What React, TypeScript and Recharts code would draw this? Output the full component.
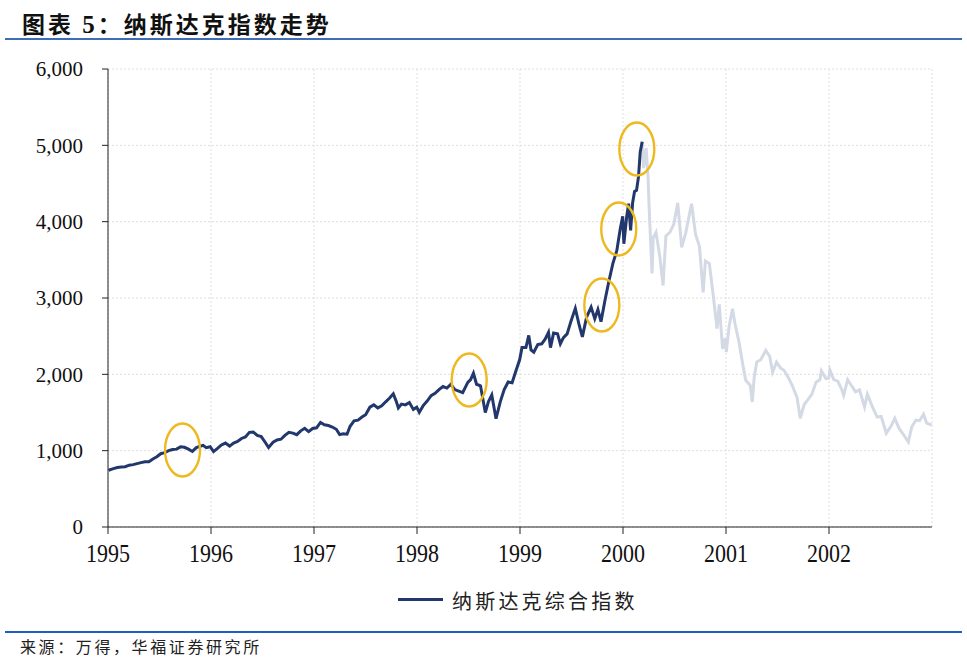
import React from "react";
import { LineChart, Line, XAxis, YAxis, CartesianGrid, ReferenceDot } from "recharts";

// 纳斯达克综合指数，按日期读取（月-日, 点位）
const NASDAQ_1995: [string, number][] = [
  ["01-03", 743], ["01-20", 765], ["02-03", 780], ["02-17", 785], ["03-03", 790], ["03-17", 810],
  ["03-31", 817], ["04-14", 830], ["04-28", 843], ["05-12", 855], ["05-26", 855], ["06-09", 890],
  ["06-23", 920], ["07-07", 960], ["07-21", 975], ["08-04", 1000], ["08-18", 1015], ["09-01", 1020],
  ["09-15", 1050], ["09-29", 1044], ["10-13", 1020], ["10-27", 990], ["11-10", 1040], ["11-24", 1058],
  ["12-04", 1069], ["12-15", 1040], ["12-29", 1052],
];
const NASDAQ_1996: [string, number][] = [
  ["01-10", 988], ["01-24", 1030], ["02-07", 1075], ["02-21", 1100], ["03-08", 1060], ["03-22", 1100],
  ["04-05", 1120], ["04-19", 1160], ["05-03", 1180], ["05-17", 1240], ["05-31", 1243], ["06-14", 1200],
  ["06-28", 1185], ["07-12", 1110], ["07-24", 1042], ["08-09", 1110], ["08-23", 1140], ["09-06", 1150],
  ["09-20", 1200], ["10-04", 1240], ["10-18", 1230], ["11-01", 1210], ["11-15", 1260], ["11-29", 1293],
  ["12-13", 1250], ["12-27", 1290],
];
const NASDAQ_1997: [string, number][] = [
  ["01-10", 1300], ["01-24", 1370], ["02-07", 1340], ["02-21", 1330], ["03-07", 1310], ["03-21", 1280],
  ["04-02", 1210], ["04-14", 1220], ["04-28", 1215], ["05-09", 1320], ["05-23", 1390], ["06-06", 1400],
  ["06-20", 1440], ["07-03", 1470], ["07-18", 1570], ["08-01", 1600], ["08-15", 1560], ["08-29", 1587],
  ["09-12", 1640], ["09-26", 1690], ["10-09", 1745], ["10-20", 1640], ["10-27", 1560], ["11-07", 1610],
  ["11-21", 1600], ["12-05", 1630], ["12-19", 1540], ["12-31", 1570],
];
const NASDAQ_1998: [string, number][] = [
  ["01-09", 1503], ["01-23", 1590], ["02-06", 1650], ["02-20", 1720], ["03-06", 1750], ["03-20", 1800],
  ["04-03", 1840], ["04-17", 1820], ["05-01", 1870], ["05-15", 1800], ["05-29", 1780], ["06-12", 1760],
  ["06-30", 1895], ["07-10", 1930], ["07-20", 2014], ["07-31", 1870], ["08-14", 1850], ["08-31", 1499],
  ["09-11", 1640], ["09-23", 1730], ["10-08", 1419], ["10-23", 1640], ["11-06", 1800], ["11-20", 1900],
  ["12-04", 1890], ["12-18", 2050], ["12-31", 2193],
];
const NASDAQ_1999: [string, number][] = [
  ["01-08", 2350], ["01-22", 2350], ["02-01", 2510], ["02-09", 2320], ["02-19", 2290], ["03-05", 2390],
  ["03-19", 2400], ["03-31", 2460], ["04-12", 2550], ["04-19", 2350], ["04-30", 2540], ["05-14", 2530],
  ["05-24", 2400], ["06-04", 2480], ["06-17", 2530], ["07-01", 2700], ["07-16", 2864], ["07-30", 2640],
  ["08-10", 2490], ["08-25", 2750], ["09-10", 2880], ["09-23", 2730], ["10-04", 2850], ["10-15", 2690],
  ["10-29", 2966], ["11-12", 3220], ["11-26", 3450], ["12-10", 3620], ["12-22", 3900], ["12-31", 4069],
];
const NASDAQ_2000: [string, number][] = [
  ["01-04", 3710], ["01-14", 4064], ["01-21", 4235], ["01-28", 3887], ["02-04", 4244], ["02-11", 4395],
  ["02-18", 4411], ["02-25", 4590], ["03-03", 4914], ["03-10", 5048], ["03-15", 4700], ["03-24", 4963],
  ["03-31", 4573], ["04-04", 4150], ["04-14", 3321], ["04-18", 3790], ["04-28", 3860], ["05-12", 3530],
  ["05-23", 3164], ["06-02", 3813], ["06-16", 3860], ["06-30", 3966], ["07-14", 4246], ["07-28", 3663],
  ["08-11", 3850], ["09-01", 4234], ["09-15", 3835], ["09-29", 3673], ["10-12", 3074], ["10-20", 3483],
  ["11-03", 3451], ["11-17", 3028], ["11-30", 2598], ["12-08", 2917], ["12-20", 2333], ["12-29", 2471],
];
const NASDAQ_2001: [string, number][] = [
  ["01-02", 2292], ["01-12", 2626], ["01-24", 2859], ["02-02", 2660], ["02-16", 2425], ["03-02", 2117],
  ["03-12", 1923], ["03-28", 1854], ["04-04", 1638], ["04-11", 1961], ["04-20", 2163], ["05-04", 2191],
  ["05-22", 2313], ["06-05", 2233], ["06-15", 2028], ["06-29", 2160], ["07-13", 2084], ["07-26", 2050],
  ["08-10", 1956], ["08-23", 1860], ["09-10", 1695], ["09-21", 1423], ["10-05", 1605], ["10-19", 1671],
  ["11-02", 1745], ["11-16", 1898], ["11-30", 1930], ["12-05", 2046], ["12-21", 1945], ["12-31", 1950],
];
const NASDAQ_2002: [string, number][] = [
  ["01-04", 2059], ["01-18", 1930], ["02-01", 1911], ["02-15", 1805], ["02-22", 1724], ["03-08", 1929],
  ["03-22", 1851], ["04-05", 1770], ["04-19", 1796], ["05-07", 1573], ["05-17", 1741], ["06-05", 1562],
  ["06-21", 1440], ["07-05", 1448], ["07-23", 1229], ["08-09", 1322], ["08-22", 1423], ["09-06", 1295],
  ["09-20", 1221], ["10-09", 1114], ["10-21", 1309], ["11-05", 1401], ["11-18", 1393], ["12-02", 1478],
  ["12-13", 1362], ["12-31", 1336],
];

const YEARS = [1995, 1996, 1997, 1998, 1999, 2000, 2001, 2002];
const SERIES_BY_YEAR = [NASDAQ_1995, NASDAQ_1996, NASDAQ_1997, NASDAQ_1998, NASDAQ_1999, NASDAQ_2000, NASDAQ_2001, NASDAQ_2002];
const PEAK = { year: 2000, md: "03-10" };
const Y_TICKS = [0, 1000, 2000, 3000, 4000, 5000, 6000];

// 黄色圈注（日期, 点位）
const HIGHLIGHTS: { year: number; md: string; value: number }[] = [
  { year: 1995, md: "09-22", value: 1009 },
  { year: 1998, md: "07-05", value: 1926 },
  { year: 1999, md: "10-18", value: 2908 },
  { year: 1999, md: "12-17", value: 3904 },
  { year: 2000, md: "02-19", value: 4952 },
];

const CUM_DAYS = [0, 31, 59, 90, 120, 151, 181, 212, 243, 273, 304, 334];
function toYear(year: number, md: string) {
  const [m, d] = md.split("-").map(Number);
  return year + (CUM_DAYS[m - 1] + d - 1) / 365;
}

const peakX = toYear(PEAK.year, PEAK.md);
const data = YEARS.flatMap((y, i) =>
  SERIES_BY_YEAR[i].map(([md, v]) => {
    const x = toYear(y, md);
    return { x, before: x <= peakX ? v : undefined, after: x >= peakX ? v : undefined };
  })
);

const NAVY = "#22376c";
const FADED = "#d3dae5";
const GOLD = "#eeb91f";
const SERIF = "'Liberation Serif', 'Times New Roman', serif";
const CJK = "'Noto Sans CJK SC', 'Noto Sans', sans-serif";

const Ellipse = (props: any) => (
  <ellipse cx={props.cx} cy={props.cy} rx={17.5} ry={26.5} fill="none" stroke={GOLD} strokeWidth={2.4} />
);

// 年份标签略有纵向拉伸
const YearTick = (props: any) => {
  const { x, y, payload } = props;
  return (
    <text
      x={x}
      y={y}
      dy="0.71em"
      textAnchor="middle"
      fontSize={22}
      fontFamily={SERIF}
      fill="#111"
      transform={`translate(${x},${y}) scale(1,1.12) translate(${-x},${-y})`}
    >
      {payload.value}
    </text>
  );
};

export default function App() {
  return (
    <div style={{ position: "absolute", left: 0, top: 0, width: 967, height: 661, background: "#fff", overflow: "hidden" }}>
      <div
        style={{
          position: "absolute", left: 22, top: 6, fontFamily: CJK, fontWeight: 700, fontSize: 23,
          letterSpacing: 3, color: "#111",
        }}
      >
        图表 <span style={{ fontFamily: SERIF, fontSize: 25 }}>5</span>：纳斯达克指数走势
      </div>
      <div style={{ position: "absolute", left: 5, top: 38, width: 957, height: 1.5, background: "#3d6db5" }} />

      <div style={{ position: "absolute", left: 0, top: 0 }}>
        <LineChart width={967} height={661} data={data} margin={{ top: 69, right: 35, left: 8, bottom: 94 }}>
          <CartesianGrid stroke="#dedede" strokeDasharray="2 2" />
          <XAxis
            dataKey="x"
            type="number"
            domain={[1995, 2002.97]}
            ticks={YEARS}
            allowDecimals={false}
            height={40}
            stroke="#222"
            tickSize={7}
            tickMargin={11}
            tick={<YearTick />}
          />
          <YAxis
            domain={[0, 6000]}
            ticks={Y_TICKS}
            width={100}
            stroke="#222"
            tickSize={6}
            tickMargin={19}
            tickFormatter={(v) => Number(v).toLocaleString("en-US")}
            tick={{ fill: "#111", fontSize: 21, fontFamily: SERIF }}
          />
          <Line dataKey="after" stroke={FADED} strokeWidth={3} dot={false} type="linear" isAnimationActive={false} />
          <Line dataKey="before" stroke={NAVY} strokeWidth={3} dot={false} type="linear" isAnimationActive={false} />
          {HIGHLIGHTS.map((h) => (
            <ReferenceDot key={h.year + h.md} x={toYear(h.year, h.md)} y={h.value} r={20} shape={Ellipse} />
          ))}
        </LineChart>
      </div>

      <div style={{ position: "absolute", left: 398, top: 598, width: 45, height: 2.5, background: NAVY }} />
      <div style={{ position: "absolute", left: 452, top: 586, fontFamily: CJK, fontSize: 20, letterSpacing: 3.2, color: "#222" }}>
        纳斯达克综合指数
      </div>

      <div style={{ position: "absolute", left: 5, top: 631, width: 957, height: 1.5, background: "#1f5fbf" }} />
      <div style={{ position: "absolute", left: 20, top: 634, fontFamily: CJK, fontSize: 16, letterSpacing: 2.6, color: "#222" }}>
        来源：万得，华福证券研究所
      </div>
    </div>
  );
}
